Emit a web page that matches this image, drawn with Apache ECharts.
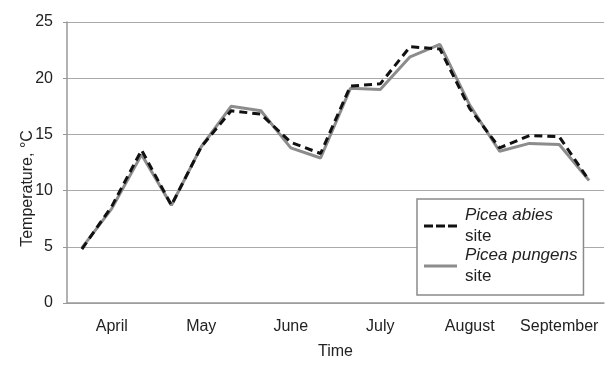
<!DOCTYPE html>
<html>
<head>
<meta charset="utf-8">
<script src="https://cdn.jsdelivr.net/npm/echarts@6/dist/echarts.min.js"></script>
<style>html,body{margin:0;padding:0;background:#fff}#c{width:611px;height:366px}</style>
</head>
<body>
<div id="c"></div>
<script>
// 18 sampling periods (3 per month), April–September
const categories = ['Apr-1','Apr-2','Apr-3','May-1','May-2','May-3','Jun-1','Jun-2','Jun-3','Jul-1','Jul-2','Jul-3','Aug-1','Aug-2','Aug-3','Sep-1','Sep-2','Sep-3'];
const monthLabels = ['April','May','June','July','August','September'];
const abiesSite   = [4.8, 8.6, 13.6, 8.7, 13.9, 17.1, 16.8, 14.3, 13.3, 19.3, 19.5, 22.8, 22.6, 17.3, 13.8, 14.9, 14.8, 10.9];
const pungensSite = [4.9, 8.4, 13.2, 8.7, 13.9, 17.5, 17.1, 13.8, 12.9, 19.1, 19.0, 21.9, 23.0, 17.6, 13.5, 14.2, 14.1, 10.9];
const yTicks = [0, 5, 10, 15, 20, 25];

const chart = echarts.init(document.getElementById('c'), null, {renderer: 'canvas'});
const font = 'Arial, "Liberation Sans", sans-serif';
chart.setOption({
  animation: false,
  textStyle: {fontFamily: font},
  grid: {left: 67, right: 7, top: 22, bottom: 63},
  legend: {
    left: 417, top: 199,
    orient: 'vertical',
    backgroundColor: '#fff',
    borderColor: '#8a8a8a', borderWidth: 1.5, borderRadius: 0,
    padding: [8, 6, 10, 7],
    itemGap: 2,
    itemWidth: 33, itemHeight: 3,
    data: [
      {name: 'Picea abies', icon: 'path://M0,0h9v3h-9z M12,0h9v3h-9z M24,0h9v3h-9z', itemStyle: {color: '#111'}},
      {name: 'Picea pungens', icon: 'path://M0,0h33v3h-33z', itemStyle: {color: '#8c8c8c'}}
    ],
    formatter: name => '{a|' + name + '}\n{b|site}',
    textStyle: {
      color: '#222', fontSize: 17, fontFamily: font, padding: [0, 0, 0, 3],
      rich: {
        a: {fontStyle: 'italic', fontSize: 17, lineHeight: 21, color: '#222', fontFamily: font},
        b: {fontSize: 17, lineHeight: 21, color: '#222', fontFamily: font}
      }
    }
  },
  xAxis: [{
    type: 'category', data: categories, boundaryGap: true,
    name: 'Time', nameLocation: 'middle', nameGap: 41,
    nameTextStyle: {fontSize: 16, color: '#222', fontFamily: font},
    axisLine: {lineStyle: {color: '#999', width: 1.5}},
    axisTick: {interval: 0, length: 4, lineStyle: {color: '#999', width: 1.2}},
    axisLabel: {
      interval: (i) => i % 3 === 1,
      formatter: (v, i) => monthLabels[Math.floor(i / 3)],
      color: '#222', fontSize: 16, margin: 16, fontFamily: font
    },
    splitLine: {show: false}
  }, {
    type: 'category', data: categories, boundaryGap: true, position: 'bottom',
    axisLine: {show: false},
    axisTick: {interval: 2, length: 12, lineStyle: {color: '#999', width: 1.2}},
    axisLabel: {show: false},
    splitLine: {show: false}
  }],
  yAxis: {
    type: 'value', min: 0, max: 25, interval: 5,
    name: 'Temperature, °C', nameLocation: 'middle', nameGap: 31, nameMoveOverlap: false,
    nameTextStyle: {fontSize: 16, color: '#222', fontFamily: font, padding: [0, 52, 0, 0]},
    axisLine: {show: true, lineStyle: {color: '#999', width: 1.5}},
    axisTick: {show: true, length: 4, lineStyle: {color: '#999'}},
    axisLabel: {color: '#222', fontSize: 16, margin: 14, fontFamily: font,
      formatter: v => yTicks.includes(v) ? String(v) : ''},
    splitLine: {lineStyle: {color: '#aaa', width: 1.2}}
  },
  series: [{
    name: 'Picea pungens', type: 'line', data: pungensSite, symbol: 'none',
    lineStyle: {color: '#8c8c8c', width: 3, type: 'solid'}, itemStyle: {color: '#8c8c8c'}, z: 2
  }, {
    name: 'Picea abies', type: 'line', data: abiesSite, symbol: 'none',
    lineStyle: {color: '#111', width: 3, type: [8, 5]}, itemStyle: {color: '#111'}, z: 3
  }]
});
</script>
</body>
</html>
